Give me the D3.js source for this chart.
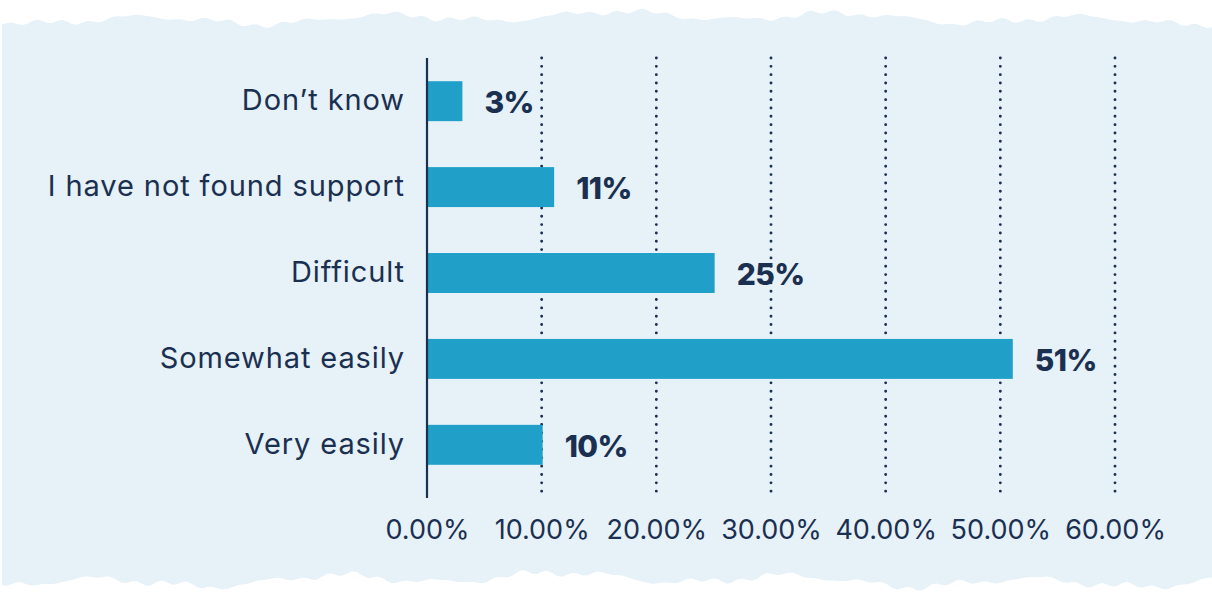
<!DOCTYPE html>
<html>
<head>
<meta charset="utf-8">
<script src="https://cdn.jsdelivr.net/npm/d3@7"></script>
<style>
  html, body { margin: 0; padding: 0; background: #ffffff; }
  svg { display: block; }
</style>
</head>
<body>
<svg id="chart" width="1212" height="597"></svg>
<script>
// Survey answers, top to bottom
const categories = ["Don\u2019t know", "I have not found support", "Difficult", "Somewhat easily", "Very easily"];
const shares = [0.03, 0.11, 0.25, 0.51, 0.10];
const tickValues = [0, 0.1, 0.2, 0.3, 0.4, 0.5, 0.6];

const ink = "#1b3050";
const barColor = "#20a0c9";
const paper = "#e6f1f8";
const font = "Inter, 'Open Sans', sans-serif";

const svg = d3.select("#chart");

// Light-blue panel with rough, torn-looking top and bottom edges
function roughEdge(x0, x1, base, amp, phase) {
  const pts = [];
  for (let x = x0; x <= x1; x += 5) {
    const y = base
      + amp * (0.55 * Math.sin(x / 37 + phase)
      + 0.3 * Math.sin(x / 13.7 + 2 * phase)
      + 0.3 * Math.sin(x / 4.1 + 3 * phase) * Math.sin(x / 61 + phase)
      + 0.4 * Math.sin(x / 151 + phase / 2));
    pts.push([x, y]);
  }
  return pts;
}
const topEdge = roughEdge(2, 1212, 18, 7, 0.7);
const bottomEdge = roughEdge(2, 1212, 580, 8, 2.1).reverse();
const panel = d3.path();
panel.moveTo(2, topEdge[0][1]);
topEdge.forEach(p => panel.lineTo(p[0], p[1]));
panel.lineTo(1212, topEdge[topEdge.length - 1][1]);
panel.lineTo(1212, bottomEdge[0][1]);
bottomEdge.forEach(p => panel.lineTo(p[0], p[1]));
panel.lineTo(2, bottomEdge[bottomEdge.length - 1][1]);
panel.closePath();
svg.append("path").attr("d", panel.toString()).attr("fill", paper);

// Scales
const x = d3.scaleLinear().domain([0, 0.6]).range([427, 1115]);
const y = d3.scaleBand().domain(categories).range([58, 488]).paddingInner(0.535).paddingOuter(0.27);

// Dotted vertical gridlines
svg.append("g")
  .selectAll("line")
  .data(tickValues.slice(1))
  .join("line")
  .attr("x1", d => x(d)).attr("x2", d => x(d))
  .attr("y1", 58).attr("y2", 498)
  .attr("stroke", ink)
  .attr("stroke-width", 2.9)
  .attr("stroke-linecap", "round")
  .attr("stroke-dasharray", "0 8.33");

// Bars
svg.append("g")
  .selectAll("rect")
  .data(shares)
  .join("rect")
  .attr("x", x(0) + 1)
  .attr("y", (d, i) => y(categories[i]))
  .attr("width", d => x(d) - x(0))
  .attr("height", y.bandwidth())
  .attr("fill", barColor);

// Vertical baseline
svg.append("line")
  .attr("x1", x(0)).attr("x2", x(0))
  .attr("y1", 58).attr("y2", 498)
  .attr("stroke", ink).attr("stroke-width", 2.2);

// Category labels
const yAxis = d3.axisLeft(y).tickSize(0).tickPadding(22);
const gy = svg.append("g").attr("transform", `translate(${x(0)},0)`).call(yAxis);
gy.select(".domain").remove();
gy.selectAll("text")
  .attr("fill", ink)
  .attr("font-family", font)
  .attr("font-size", 29)
  .attr("letter-spacing", 0.9)
  .attr("dy", "0.3em");

// Percentage tick labels
const xAxis = d3.axisBottom(x).tickValues(tickValues).tickFormat(d3.format(".2%")).tickSize(0).tickPadding(0);
const gx = svg.append("g").attr("transform", "translate(0,519)").call(xAxis);
gx.select(".domain").remove();
gx.selectAll("text")
  .attr("fill", ink)
  .attr("font-family", font)
  .attr("font-size", 27)
  .attr("dy", "0.75em");

// Value labels
svg.append("g")
  .selectAll("text")
  .data(shares)
  .join("text")
  .attr("x", d => x(d) + 23)
  .attr("y", (d, i) => y(categories[i]) + y.bandwidth() / 2 + 12)
  .attr("fill", ink)
  .attr("font-family", font)
  .attr("font-weight", 800)
  .attr("font-size", 30)
  .attr("letter-spacing", -0.6)
  .text(d => d3.format(".0%")(d));
</script>
</body>
</html>
